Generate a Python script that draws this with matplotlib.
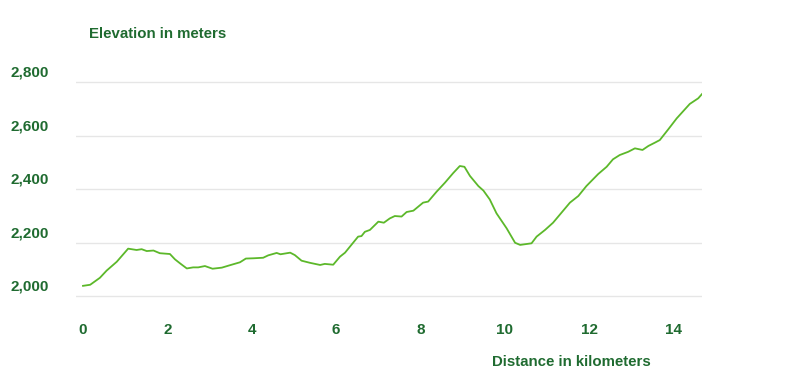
import matplotlib.pyplot as plt
from matplotlib.transforms import ScaledTranslation

# Perfil de elevación (distancia en km, elevación en m)
dist_km = [0.00, 0.17, 0.40, 0.56, 0.80, 1.07, 1.27, 1.39, 1.51, 1.67, 1.82, 2.06, 2.18,
           2.30, 2.46, 2.61, 2.73, 2.89, 3.07, 3.29, 3.48, 3.72, 3.86, 4.04, 4.27, 4.39,
           4.59, 4.68, 4.91, 5.02, 5.18, 5.38, 5.62, 5.73, 5.93, 6.09, 6.21, 6.37, 6.52,
           6.60, 6.68, 6.80, 7.00, 7.13, 7.27, 7.39, 7.55, 7.67, 7.83, 8.06, 8.18, 8.38,
           8.58, 8.77, 8.93, 9.04, 9.17, 9.37, 9.49, 9.64, 9.80, 10.04, 10.24, 10.36,
           10.63, 10.75, 10.95, 11.14, 11.54, 11.74, 11.93, 12.21, 12.41, 12.56, 12.72,
           12.92, 13.08, 13.26, 13.40, 13.55, 13.67, 13.87, 14.07, 14.38, 14.58, 14.67]
elev_m = [2038, 2042, 2068, 2095, 2128, 2177, 2172, 2175, 2168, 2170, 2160, 2157, 2137,
          2122, 2103, 2107, 2107, 2112, 2102, 2106, 2115, 2126, 2140, 2141, 2143, 2152,
          2161, 2156, 2162, 2153, 2132, 2124, 2116, 2120, 2117, 2147, 2162, 2193, 2222,
          2224, 2240, 2247, 2278, 2274, 2290, 2299, 2297, 2314, 2319, 2349, 2353, 2390,
          2424, 2459, 2486, 2483, 2449, 2411, 2394, 2361, 2309, 2253, 2199, 2191,
          2197, 2222, 2247, 2274, 2349, 2374, 2411, 2456, 2483, 2511, 2527,
          2539, 2552, 2546, 2561, 2573, 2583, 2623, 2664, 2718, 2739, 2755]

x_ticks = [0, 2, 4, 6, 8, 10, 12, 14]
y_ticks = [2000, 2200, 2400, 2600, 2800]
y_labels = ['2,000', '2,200', '2,400', '2,600', '2,800']

verde_texto = '#1f6b30'
verde_linea = '#5cb82a'

plt.rcParams['font.family'] = ['Liberation Sans', 'DejaVu Sans']

fig = plt.figure(figsize=(8, 3.86), dpi=100)
ax = fig.add_axes([76 / 800, 0.2193, 626 / 800, 0.5821])

ax.plot(dist_km, elev_m, color=verde_linea, linewidth=1.3, solid_joinstyle='round')

ax.set_xlim(-0.166, 14.67)
ax.set_ylim(1980, 2820)

for s in ax.spines.values():
    s.set_visible(False)

ax.set_yticks(y_ticks)
ax.set_yticklabels([])
ax.grid(axis='y', color='#e6e6e6', linewidth=1)
ax.set_axisbelow(True)
ax.tick_params(axis='y', length=0)

ax.set_xticks(x_ticks)
ax.set_xticklabels([str(t) for t in x_ticks], color=verde_texto,
                   fontsize=11, fontweight='bold')
ax.tick_params(axis='x', length=0, pad=15.5)

# etiquetas del eje Y desplazadas hacia arriba de la línea de rejilla
offset = ScaledTranslation(0, 9.5 / 100, fig.dpi_scale_trans)
for v, lab in zip(y_ticks, y_labels):
    ax.text(-27 / 626, v, lab, transform=ax.get_yaxis_transform() + offset,
            ha='right', va='center', color=verde_texto, fontsize=11, fontweight='bold')

fig.text(89 / 800, 1 - 34 / 386, 'Elevation in meters', ha='left', va='center',
         color=verde_texto, fontsize=10.8, fontweight='bold')
fig.text(492 / 800, 1 - 362 / 386, 'Distance in kilometers', ha='left', va='center',
         color=verde_texto, fontsize=10.8, fontweight='bold')

plt.savefig('out.png', dpi=100)
